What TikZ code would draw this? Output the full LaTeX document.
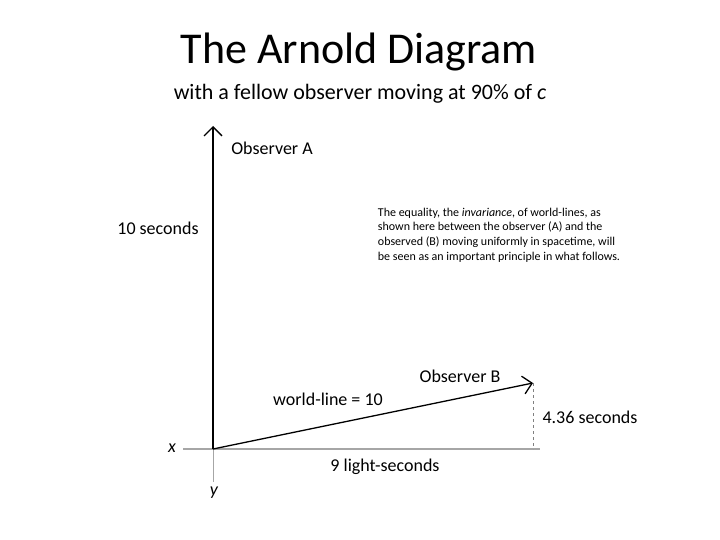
\documentclass[tikz,border=0pt]{standalone}
\usepackage{fontspec}
\setmainfont{Carlito}
\usetikzlibrary{arrows.meta}

\begin{document}
\begin{tikzpicture}[x=1pt,y=-1pt,
    axis/.style={draw=gray!70,line width=1.2pt},
    wline/.style={draw=black,line width=1.3pt,-{Straight Barb[length=9pt,width=18pt]}},
    lbl/.style={font=\fontsize{18}{21}\selectfont}]
    \useasboundingbox (0,0) rectangle (720,540);
    \coordinate (O) at (213,449);
    \coordinate (xl) at (183,449);
    \coordinate (xr) at (540,449);
    \coordinate (yb) at (213,482);
    \coordinate (At) at (213,126);
    \coordinate (Bt) at (533,383);
    \coordinate (Bf) at (533,449);
    % title
    \node (title) at (359,52) {\fontsize{44}{50}\selectfont The Arnold Diagram};
    \node (sub) at (360,94) {\fontsize{22}{26}\selectfont with a fellow observer moving at 90\% of \textit{c}};
    % axes
    \draw[axis] (xl) -- (xr);
    \draw[axis,line width=1pt] (O) -- (yb);
    \draw[wline] (O) -- (At);
    \draw[wline] (O) -- (Bt);
    \draw[gray,dashed,line width=1pt] (Bt) -- (Bf);
    % labels
    \node[lbl] (obsA) at (272,148) {Observer A};
    \node[lbl] (ten) at (158,228) {10 seconds};
    \node[lbl] (obsB) at (460,376) {Observer B};
    \node[lbl] (wl) at (328,399) {world-line = 10};
    \node[lbl] (tB) at (590,417) {4.36 seconds};
    \node[lbl] (nine) at (385,467) {9 light-seconds};
    \node[lbl] (xn) at (172,448) {\textit{x}};
    \node[lbl] (yn) at (214,493) {\textit{y}};
    \node[align=left,font=\fontsize{12}{14.7}\selectfont] (note) at (499,235)
      {The equality, the \textit{invariance}, of world-lines, as\\
       shown here between the observer (A) and the\\
       observed (B) moving uniformly in spacetime, will\\
       be seen as an important principle in what follows.};
\end{tikzpicture}
\end{document}
